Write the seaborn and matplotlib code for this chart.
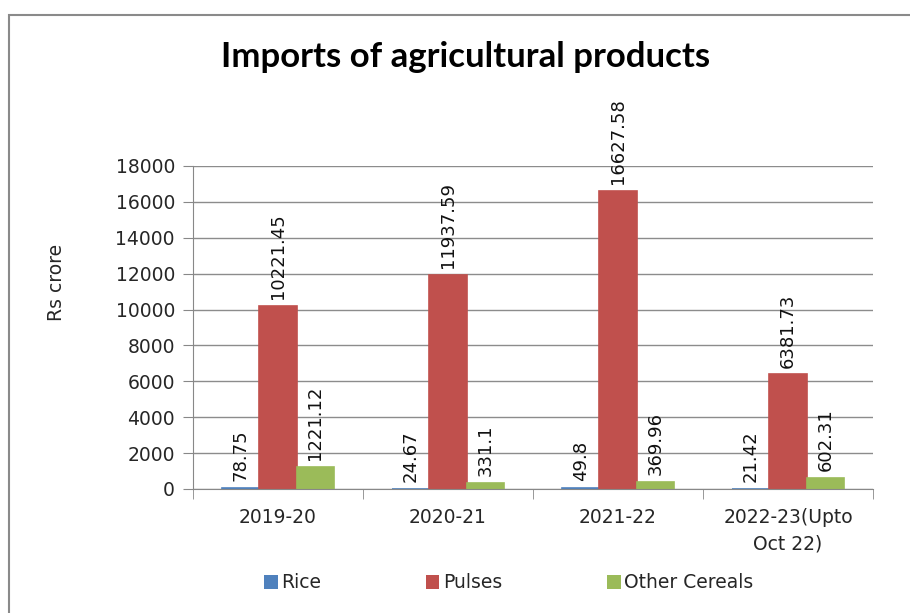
import pandas as pd
import matplotlib.pyplot as plt
import seaborn as sns
from matplotlib.patches import Rectangle

years = ['2019-20', '2020-21', '2021-22', '2022-23(Upto\nOct 22)']
products = ['Rice', 'Pulses', 'Other Cereals']
rice = [78.75, 24.67, 49.8, 21.42]
pulses = [10221.45, 11937.59, 16627.58, 6381.73]
other_cereals = [1221.12, 331.1, 369.96, 602.31]
y_ticks = [0, 2000, 4000, 6000, 8000, 10000, 12000, 14000, 16000, 18000]

custom_palette = ['#4F81BD', '#C0504D', '#9BBB59']

# long table for seaborn
rows = []
for prod, vals in zip(products, [rice, pulses, other_cereals]):
    for yr, v in zip(years, vals):
        rows.append({'Year': yr, 'Product': prod, 'Value': v})
data = pd.DataFrame(rows)

sns.set_style("white")
plt.rcParams['font.family'] = ['DejaVu Sans']

fig = plt.figure(figsize=(9.1, 6.13), dpi=100)
ax = fig.add_axes([193/910, 1 - 489/613, (873 - 193)/910, (489 - 166)/613])

g = sns.barplot(data=data, x='Year', y='Value', hue='Product', palette=custom_palette,
                width=0.66, gap=0, saturation=1, linewidth=0, ax=ax)

# value labels on top of each bar, thin edge so tiny rice bars stay visible
for cont, vals, col in zip(ax.containers, [rice, pulses, other_cereals], custom_palette):
    for bar, v in zip(cont, vals):
        bar.set_edgecolor(col)
        bar.set_linewidth(1.2)
        ax.annotate(str(v), (bar.get_x() + bar.get_width() / 2, bar.get_height()),
                    xytext=(0, 5), textcoords='offset points', rotation=90,
                    ha='center', va='bottom', fontsize=13, color='#111111')

ax.set_ylim(0, 18000)
ax.set_xlim(-0.5, len(years) - 0.5)
ax.set_yticks(y_ticks)
ax.tick_params(axis='y', labelsize=13.5, length=7, color='#888888', direction='out', left=True, pad=6)
ax.tick_params(axis='x', which='major', labelsize=13.5, length=0, pad=14)
ax.set_xticks([i - 0.5 for i in range(len(years) + 1)], minor=True)
ax.tick_params(axis='x', which='minor', length=7, color='#888888', bottom=True, direction='out')
ax.yaxis.grid(True, color='#8c8c8c', linewidth=1)
ax.set_axisbelow(True)
for s in ['top', 'right']:
    ax.spines[s].set_visible(False)
for s in ['left', 'bottom']:
    ax.spines[s].set_color('#888888')
ax.set_xlabel('')
ax.set_ylabel('')
for lbl in ax.get_xticklabels():
    lbl.set_linespacing(1.5)

fig.text(57/910, 1 - 282/613, 'Rs crore', rotation=90, ha='center', va='center', fontsize=13.5)
fig.text(466/910, 1 - 57/613, 'Imports of agricultural products', ha='center', va='center',
         fontsize=25, fontweight='bold', color='black', family=['Lato', 'DejaVu Sans'])

ax.legend_.remove()
handles, labels = ax.get_legend_handles_labels()
fig.legend(handles, labels, loc='center', bbox_to_anchor=(509/910, 1 - 583/613), ncol=3,
           frameon=False, fontsize=13.5, handlelength=0.7, handleheight=0.7,
           handletextpad=0.2, columnspacing=5.6)

# outer chart border
fig.patches.append(Rectangle((9/910, -0.1), 1.2, 1 - 15/613 + 0.1, transform=fig.transFigure,
                             fill=False, edgecolor='#8a8a8a', linewidth=1.5))

fig.savefig('out.png', dpi=100)
